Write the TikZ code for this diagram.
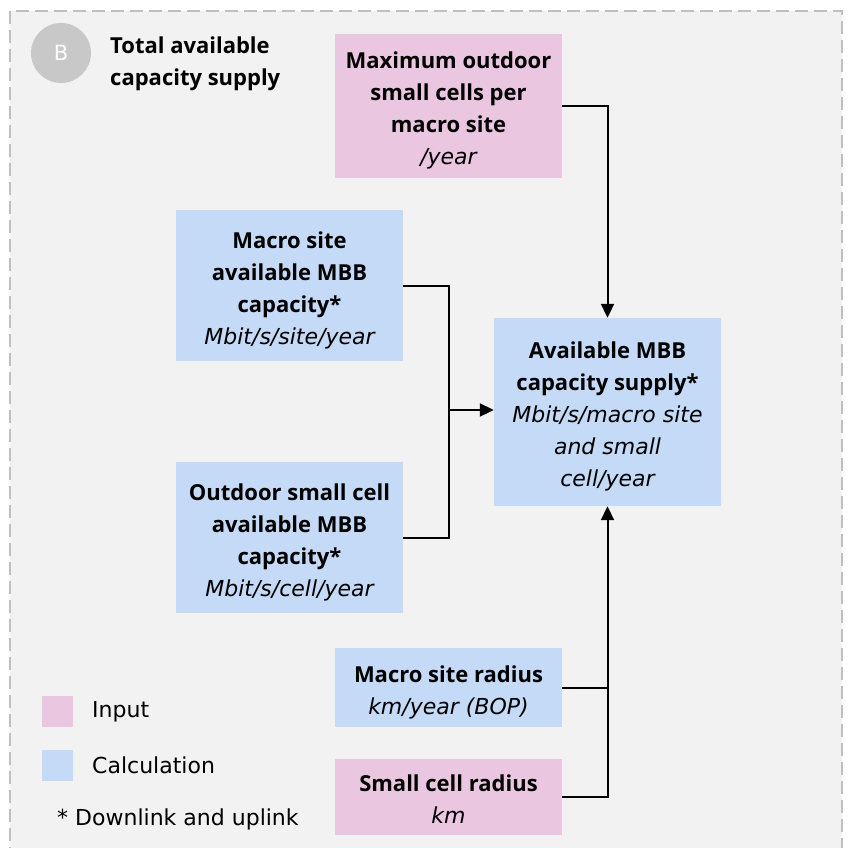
\documentclass[tikz,border=0pt]{standalone}
\usepackage{fontspec}
\setmainfont{Open Sans}
\newfontfamily\unitfont{DejaVu Sans}
\newfontfamily\plainfont{DejaVu Sans}
\usetikzlibrary{arrows.meta}
\definecolor{inputpink}{HTML}{EBC6E0}
\definecolor{calcblue}{HTML}{C5DAF7}
\definecolor{panelgray}{HTML}{F2F2F2}
\definecolor{framegray}{HTML}{BFBFBF}
\definecolor{badgegray}{HTML}{C8C8C8}
% heading lines in bold, unit lines in oblique
\newcommand{\hd}{\bfseries}
\newcommand{\un}{\unitfont\itshape}
\newcommand{\firstline}{\rule{0pt}{26pt}}
\newcommand{\lastdepth}{\rule[-6pt]{0pt}{6pt}}
\tikzset{
  boxfont/.style={font=\fontsize{22}{32}\selectfont},
  flowbox/.style={boxfont, rectangle, inner sep=0pt, align=center,
    minimum width=227pt},
  inputbox/.style={flowbox, fill=inputpink},
  calcbox/.style={flowbox, fill=calcblue},
  link/.style={line width=2pt, black},
  arrowlink/.style={link, -{Triangle[length=14pt, width=13pt]}},
  legendsq/.style={rectangle, inner sep=0pt, minimum size=31pt},
  legendtext/.style={font=\plainfont\fontsize{22}{32}\selectfont, anchor=west, inner sep=0pt},
}
\begin{document}
\begin{tikzpicture}[x=1pt, y=-1pt]
\useasboundingbox (0,0) rectangle (854,847);
\fill[white] (0,0) rectangle (854,847);
% dashed panel
\begin{scope}
\clip (0,0) rectangle (854,847);
\draw[framegray, fill=panelgray, line width=2.6pt, dash pattern=on 13pt off 6pt]
  (10,11) rectangle (842,870);
\end{scope}

% badge and heading
\node[circle, fill=badgegray, minimum size=60pt, inner sep=0pt,
  text=white, font=\plainfont\fontsize{21}{24}\selectfont] (badge) at (61,53) {B};
\node[anchor=west, inner sep=0pt, align=left,
  font=\fontsize{22}{32}\selectfont\bfseries] (title) at (110,64)
  {Total available\\capacity supply};

% boxes
\node[inputbox, minimum height=144pt] (maxsc) at (448.5,106)
  {\hd\firstline Maximum outdoor\\\hd small cells per\\\hd macro site\\\un /year};
\node[calcbox, minimum height=151pt] (macrocap) at (289.5,285.5)
  {\hd\firstline Macro site\\\hd available MBB\\\hd capacity*\\\un Mbit/s/site/year};
\node[calcbox, minimum height=151pt] (sccap) at (289.5,537.5)
  {\hd\firstline Outdoor small cell\\\hd available MBB\\\hd capacity*\\\un Mbit/s/cell/year};
\node[calcbox, minimum height=188pt] (supply) at (607.5,412)
  {\hd\firstline Available MBB\\\hd capacity supply*\\\un Mbit/s/macro site\\\un and small\\\un cell/year};
\node[calcbox, minimum height=79pt] (radius) at (448.5,687.5)
  {\hd\firstline Macro site radius\\\un km/year (BOP)};
\node[inputbox, minimum height=76pt] (scradius) at (448.5,797)
  {\hd\firstline Small cell radius\\\un km\lastdepth};

% connectors
\draw[arrowlink] (maxsc.east) -| (supply.north);
\coordinate (merge) at (449,410);
\draw[link] (macrocap.east) -| (merge);
\draw[link] (sccap.east) -| (merge);
\draw[arrowlink] (merge) -- (merge -| supply.west);
\draw[arrowlink] (scradius.east) -| (supply.south);
\draw[link] (radius.east) -- (radius.east -| supply.south);

% legend
\node[legendsq, fill=inputpink] (leginput) at (57.5,711.5) {};
\node[legendtext] (leginputtext) at (92,711.5) {Input};
\node[legendsq, fill=calcblue] (legcalc) at (57.5,765) {};
\node[legendtext] (legcalctext) at (92,765) {Calculation};
\node[legendtext] (legnote) at (57,819) {* Downlink and uplink};
\end{tikzpicture}
\end{document}
